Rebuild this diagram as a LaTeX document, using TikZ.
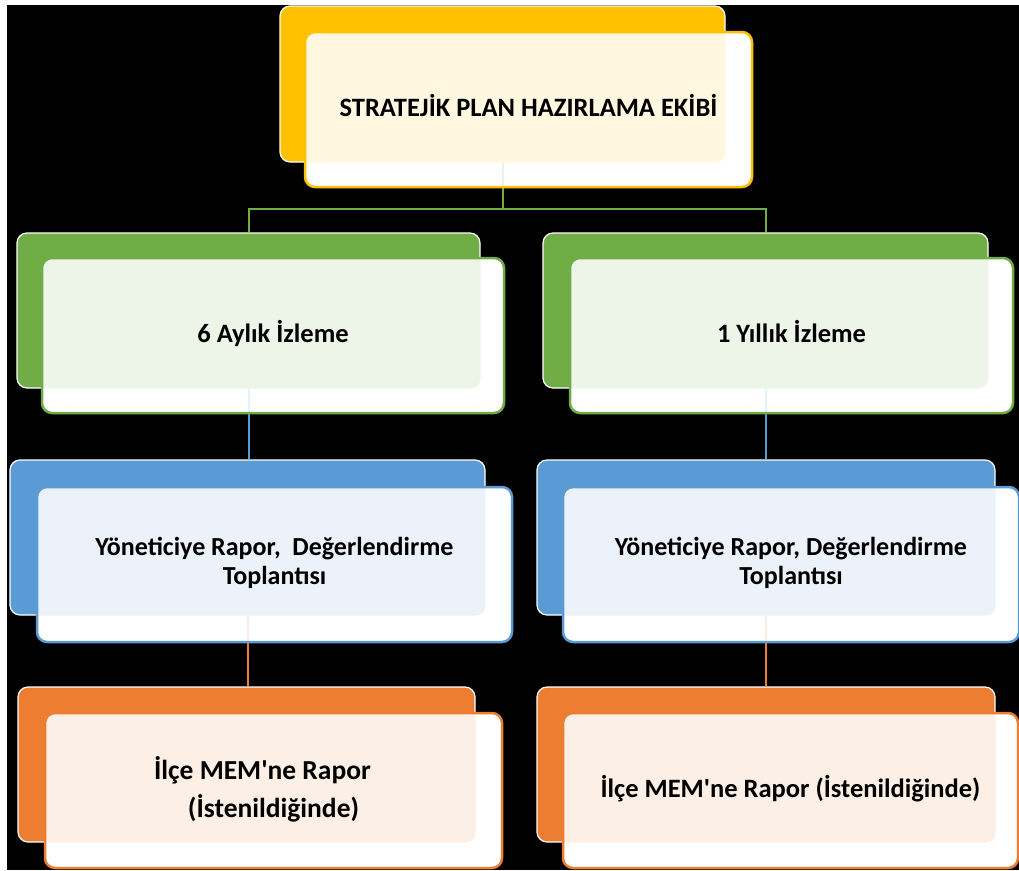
\documentclass[tikz,border=0pt]{standalone}
\usepackage{fontspec}
\setmainfont{Carlito}
\definecolor{cY}{HTML}{FFC000}
\definecolor{cG}{HTML}{70AD47}
\definecolor{cB}{HTML}{5B9BD5}
\definecolor{cO}{HTML}{ED7D31}
\begin{document}
\begin{tikzpicture}[x=1pt,y=-1pt,
  back/.style={rectangle, rounded corners=10pt, draw=white, line width=1.2pt, inner sep=0pt},
  front/.style={rectangle, rounded corners=10pt, line width=2.5pt, fill=white,
    inner sep=0pt, align=center, text=black},
  tint/.style n args={3}{path picture={
      \fill[#1, opacity=0.12, rounded corners=10pt] (#2.north west) rectangle (#2.south east);
      \draw[#3, opacity=0.15, line width=2pt] (#2.south) -- ++(0,40);}},
  tintonly/.style n args={2}{path picture={
      \fill[#1, opacity=0.12, rounded corners=10pt] (#2.north west) rectangle (#2.south east);}},
  conn/.style={line width=2pt},
  ftop/.style={font=\bfseries\fontsize{26.5}{30}\selectfont},
  fmid/.style={font=\bfseries\fontsize{26.5}{29}\selectfont},
  fblu/.style={font=\bfseries\fontsize{26}{29}\selectfont},
  fora/.style={font=\bfseries\fontsize{27.5}{38}\selectfont}]
\fill[white] (0,0) rectangle (1019,870);
\fill[black] (7,5) rectangle (1019,870);
\useasboundingbox (0,0) rectangle (1019,870);
% back boxes
\node[back, fill=cY, minimum width=445pt, minimum height=156pt] (tb) at (502.5,84) {};
\node[back, fill=cG, minimum width=463pt, minimum height=155pt] (g1b) at (248.5,310.5) {};
\node[back, fill=cG, minimum width=445pt, minimum height=155pt] (g2b) at (765.5,310.5) {};
\node[back, fill=cB, minimum width=475pt, minimum height=155pt] (b1b) at (247.5,537.5) {};
\node[back, fill=cB, minimum width=458pt, minimum height=155pt] (b2b) at (766,537.5) {};
\node[back, fill=cO, minimum width=457pt, minimum height=155pt] (o1b) at (246.5,764.5) {};
\node[back, fill=cO, minimum width=458pt, minimum height=155pt] (o2b) at (766,764.5) {};
% connectors
\coordinate (bus) at (502.5,209);
\draw[conn, cG] (tb.south) -- (bus) -| (g1b.north);
\draw[conn, cG] (bus) -| (g2b.north);
\draw[conn, cB] (g1b.south) -- (g1b.south |- b1b.north);
\draw[conn, cB] (g2b.south) -- (g2b.south |- b2b.north);
\draw[conn, cO] (b1b.south) -- (b1b.south |- o1b.north);
\draw[conn, cO] (b2b.south) -- (b2b.south |- o2b.north);
% front boxes
\node[front, draw=cY, tint={cY}{tb}{cG}, ftop, minimum width=447pt, minimum height=155pt] (tf) at (528.5,109.5) {STRATEJİK PLAN HAZIRLAMA EKİBİ\strut};
\node[front, draw=cG, tint={cG}{g1b}{cB}, fmid, minimum width=462pt, minimum height=155pt] (g1f) at (273,335.5) {6 Aylık İzleme\strut};
\node[front, draw=cG, tint={cG}{g2b}{cB}, fmid, minimum width=443pt, minimum height=155pt] (g2f) at (791.5,335.5) {1 Yıllık İzleme\strut};
\node[front, draw=cB, tint={cB}{b1b}{cO}, fblu, minimum width=475pt, minimum height=155pt] (b1f) at (274.5,564.5) {Yöneticiye Rapor,\ \ Değerlendirme\strut\\Toplantısı\strut};
\node[front, draw=cB, tint={cB}{b2b}{cO}, fblu, minimum width=456pt, minimum height=155pt] (b2f) at (791,564.5) {Yöneticiye Rapor, Değerlendirme\strut\\Toplantısı\strut};
\node[front, draw=cO, tintonly={cO}{o1b}, fora, minimum width=457pt, minimum height=155pt] (o1f) at (273.5,790.5) {İlçe MEM\textquotesingle ne Rapor\strut\kern22pt\mbox{}\\(İstenildiğinde)\strut};
\node[front, draw=cO, tintonly={cO}{o2b}, fmid, minimum width=455pt, minimum height=155pt] (o2f) at (790.5,790.5) {İlçe MEM\textquotesingle ne Rapor (İstenildiğinde)\strut};
\end{tikzpicture}
\end{document}
